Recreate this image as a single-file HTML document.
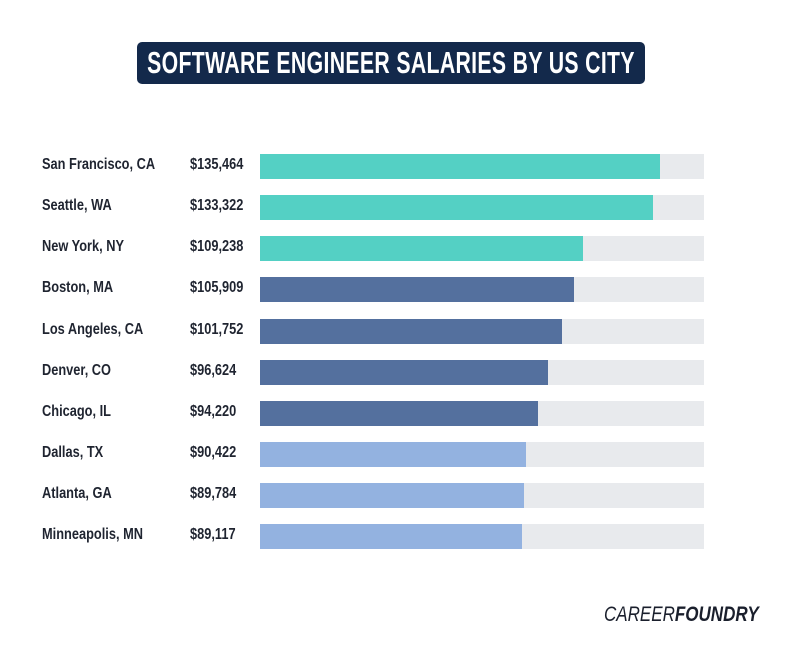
<!DOCTYPE html>
<html><head><style>
body{margin:0;width:800px;height:663px;background:#fff;position:relative;overflow:hidden;font-family:"Liberation Sans",sans-serif}
.t{position:absolute;left:137px;top:42px;width:508px;height:42px;background:#13294b;border-radius:5px}
.t span{position:absolute;left:50%;top:50%;transform:translate(-50%,-50%) scaleX(0.685);white-space:nowrap;color:#fff;font-weight:bold;font-size:31px;letter-spacing:0.5px}
.lab,.val{position:absolute;font-weight:bold;font-size:16px;color:#1f2430;transform-origin:left center;transform:scaleX(0.8);white-space:nowrap}
.bg{position:absolute;left:260px;width:444px;height:25px;background:#e8eaed}
.b{position:absolute;left:260px;height:25px}
.logo{position:absolute;left:604px;top:603px;font-size:21px;font-style:italic;color:#1a1f2c;transform-origin:left center;transform:scaleX(0.81);white-space:nowrap}
</style></head><body>
<div class="t"><span>SOFTWARE ENGINEER SALARIES BY US CITY</span></div>
<div id="c"></div>
<script>
var d=[["San Francisco, CA","$135,464",660,"#54d0c4"],["Seattle, WA","$133,322",653,"#54d0c4"],["New York, NY","$109,238",583,"#54d0c4"],["Boston, MA","$105,909",574,"#54709e"],["Los Angeles, CA","$101,752",562,"#54709e"],["Denver, CO","$96,624",548,"#54709e"],["Chicago, IL","$94,220",538,"#54709e"],["Dallas, TX","$90,422",526,"#93b2e0"],["Atlanta, GA","$89,784",524,"#93b2e0"],["Minneapolis, MN","$89,117",522,"#93b2e0"]];
var ys=[166,207,248,289,331,372,413,454,495,536],h="";
d.forEach(function(r,i){var y=ys[i];
h+='<div class="bg" style="top:'+(y-12)+'px"></div><div class="b" style="top:'+(y-12)+'px;width:'+(r[2]-260)+'px;background:'+r[3]+'"></div>';
h+='<div class="lab" style="left:42px;top:'+(y-10)+'px">'+r[0]+'</div><div class="val" style="left:190px;top:'+(y-10)+'px">'+r[1]+'</div>';});
document.getElementById("c").innerHTML=h;
</script>
<div class="logo">CAREER<b>FOUNDRY</b></div>
</body></html>
